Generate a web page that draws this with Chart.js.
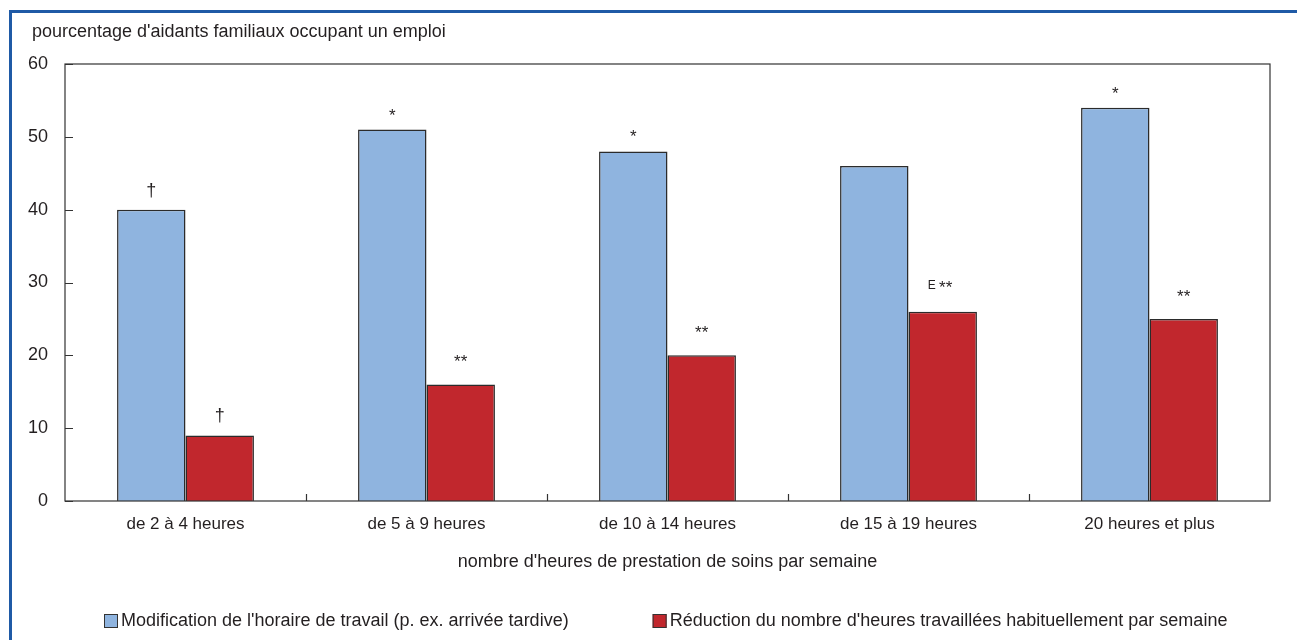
<!DOCTYPE html>
<html>
<head>
<meta charset="UTF-8">
<title>Aidants familiaux</title>
<script src="https://cdn.jsdelivr.net/npm/chart.js@4.4.4/dist/chart.umd.min.js"></script>
<style>
html, body { margin: 0; padding: 0; background: #fff; }
#wrap { width: 1297px; height: 640px; position: relative; }
</style>
</head>
<body>
<div id="wrap"><canvas id="myChart" width="1297" height="640"></canvas></div>
<script>
// donnees
const categories = ['de 2 à 4 heures', 'de 5 à 9 heures', 'de 10 à 14 heures', 'de 15 à 19 heures', '20 heures et plus'];
const horaireValues = [40, 51, 48, 46, 54];
const reductionValues = [9, 16, 20, 26, 25];
const horaireNotes = ['†', '*', '*', '', '*'];
const reductionNotes = ['†', '**', '**', 'E **', '**'];
const yTicks = [0, 10, 20, 30, 40, 50, 60];
const seriesNames = [
  "Modification de l'horaire de travail (p. ex. arrivée tardive)",
  "Réduction du nombre d'heures travaillées habituellement par semaine"
];
const yTitle = "pourcentage d'aidants familiaux occupant un emploi";
const xTitle = "nombre d'heures de prestation de soins par semaine";

const FONT = "'Liberation Sans', Arial, sans-serif";
const TEXT = '#231f20';
const BLUE = '#8fb4df';
const RED = '#c1272d';
const EDGE = '#2b2b2b';

Chart.defaults.font.family = FONT;
Chart.defaults.font.size = 18;
Chart.defaults.color = TEXT;

// cadre, titre, graduations internes, notes et legende
const decor = {
  id: 'decor',
  beforeDraw(chart) {
    const c = chart.ctx;
    c.save();
    c.fillStyle = '#fff';
    c.fillRect(0, 0, chart.width, chart.height);
    c.strokeStyle = '#1f5aa6';
    c.lineWidth = 3;
    c.beginPath();
    c.moveTo(10.5, chart.height);
    c.lineTo(10.5, 11.5);
    c.lineTo(chart.width, 11.5);
    c.stroke();
    c.restore();
  },
  afterDraw(chart) {
    const c = chart.ctx;
    const a = chart.chartArea;
    const ys = chart.scales.y;
    c.save();
    // titre de l'axe y
    c.fillStyle = TEXT;
    c.font = '18px ' + FONT;
    c.textAlign = 'left';
    c.textBaseline = 'middle';
    c.fillText(yTitle, 32, 32);

    // bordure de la zone de trace
    c.strokeStyle = '#333';
    c.lineWidth = 1.2;
    c.strokeRect(a.left, a.top, a.right - a.left, a.bottom - a.top);

    // graduations internes
    c.beginPath();
    yTicks.forEach(v => {
      const y = Math.round(ys.getPixelForValue(v)) + 0.5;
      c.moveTo(a.left, y);
      c.lineTo(a.left + 8, y);
    });
    const step = (a.right - a.left) / categories.length;
    for (let i = 1; i < categories.length; i++) {
      const x = Math.round(a.left + step * i) + 0.5;
      c.moveTo(x, a.bottom);
      c.lineTo(x, a.bottom - 7);
    }
    c.stroke();

    // notes au-dessus des barres
    const notes = [horaireNotes, reductionNotes];
    notes.forEach((list, di) => {
      const meta = chart.getDatasetMeta(di);
      list.forEach((n, i) => {
        if (!n) return;
        const bar = meta.data[i];
        c.fillStyle = TEXT;
        c.textAlign = 'center';
        c.textBaseline = 'alphabetic';
        if (n === '†') {
          c.font = '18px ' + FONT;
          c.fillText(n, bar.x, bar.y - 14);
        } else if (n.startsWith('E')) {
          c.font = '17px ' + FONT;
          c.fillText('**', bar.x + 3, bar.y - 19);
          c.font = '12px ' + FONT;
          c.textAlign = 'right';
          c.fillText('E', bar.x - 7, bar.y - 23);
        } else if (n === '**') {
          c.font = '17px ' + FONT;
          c.fillText(n, bar.x, bar.y - 17);
        } else {
          c.font = '17px ' + FONT;
          c.fillText(n, bar.x, bar.y - 9);
        }
      });
    });

    // legende
    const ly = 621;
    let lx = a.left + 39;
    c.font = '18px ' + FONT;
    c.textBaseline = 'middle';
    c.textAlign = 'left';
    [BLUE, RED].forEach((col, i) => {
      c.fillStyle = col;
      c.fillRect(lx, ly - 7, 14, 14);
      c.strokeStyle = '#333';
      c.lineWidth = 1;
      c.strokeRect(lx + 0.5, ly - 6.5, 13, 13);
      c.fillStyle = TEXT;
      c.fillText(seriesNames[i], lx + 17, ly);
      lx += 17 + c.measureText(seriesNames[i]).width + 84;
    });
    c.restore();
  }
};

const ctx = document.getElementById('myChart').getContext('2d');
const myChart = new Chart(ctx, {
  type: 'bar',
  data: {
    labels: categories,
    datasets: [{
      label: seriesNames[0],
      data: horaireValues,
      backgroundColor: BLUE,
      borderColor: EDGE,
      borderWidth: 1.5,
      borderSkipped: 'bottom',
      categoryPercentage: 0.568,
      barPercentage: 1
    }, {
      label: seriesNames[1],
      data: reductionValues,
      backgroundColor: RED,
      borderColor: EDGE,
      borderWidth: 1.5,
      borderSkipped: 'bottom',
      categoryPercentage: 0.568,
      barPercentage: 1
    }]
  },
  options: {
    responsive: false,
    animation: false,
    layout: { padding: { top: 64, right: 27, left: 0, bottom: 67 } },
    plugins: {
      legend: { display: false },
      tooltip: { enabled: false }
    },
    scales: {
      x: {
        grid: { display: false, drawTicks: false },
        border: { display: false },
        ticks: { padding: 13, color: TEXT, font: { size: 17 } },
        title: { display: true, text: xTitle, color: TEXT, font: { size: 18 }, padding: { top: 0, bottom: 0 } },
        afterFit(s) { s.height = 72; }
      },
      y: {
        min: 0,
        max: 60,
        grid: { display: false, drawTicks: false },
        border: { display: false },
        afterBuildTicks(s) { s.ticks = yTicks.map(v => ({ value: v })); },
        ticks: { padding: 17, color: TEXT, font: { size: 18 } },
        afterFit(s) { s.width = 65; }
      }
    }
  },
  plugins: [decor]
});
</script>
</body>
</html>
